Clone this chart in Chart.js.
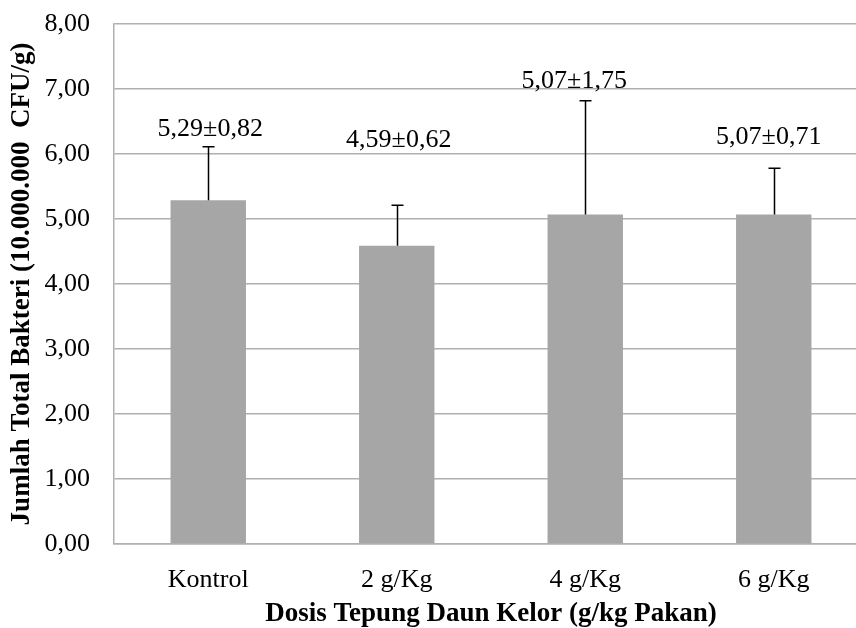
<!DOCTYPE html>
<html>
<head>
<meta charset="utf-8">
<script src="https://cdn.jsdelivr.net/npm/chart.js@4"></script>
<style>
  html, body { margin: 0; padding: 0; background: #fff; overflow: hidden; }
  #wrap { width: 856px; height: 628px; overflow: hidden; }
</style>
</head>
<body>
<div id="wrap"><canvas id="chart" width="900" height="628"></canvas></div>
<script>
// data
const categories = ['Kontrol', '2 g/Kg', '4 g/Kg', '6 g/Kg'];
const means = [5.29, 4.59, 5.07, 5.07];
const sds = [0.82, 0.62, 1.75, 0.71];
const yTicks = [0, 1, 2, 3, 4, 5, 6, 7, 8];

const fmt = v => v.toFixed(2).replace('.', ',');
const valueLabels = means.map((m, i) => fmt(m) + '±' + fmt(sds[i]));

// where each label sits (data units for y, pixel nudge for x)
const labelY = [6.28, 6.11, 7.01, 6.15];
const labelDx = [2, 2, -11, -5];

const FONT = '"Liberation Serif", "Times New Roman", serif';
const GRID = '#b0b0b0';

const errorBars = {
    id: 'errorBars',
    afterDatasetsDraw(chart) {
        const ctx = chart.ctx;
        const meta = chart.getDatasetMeta(0);
        const y = chart.scales.y;
        ctx.save();
        ctx.strokeStyle = '#000';
        ctx.lineWidth = 1.5;
        meta.data.forEach((bar, i) => {
            const x = Math.round(bar.x) + 0.5;
            const top = y.getPixelForValue(means[i] + sds[i]);
            ctx.beginPath();
            ctx.moveTo(x, bar.y);
            ctx.lineTo(x, top);
            ctx.moveTo(x - 6, top);
            ctx.lineTo(x + 6, top);
            ctx.stroke();
        });
        // value labels
        ctx.fillStyle = '#000';
        ctx.font = '26px ' + FONT;
        ctx.textAlign = 'center';
        ctx.textBaseline = 'alphabetic';
        meta.data.forEach((bar, i) => {
            ctx.fillText(valueLabels[i], bar.x + labelDx[i], y.getPixelForValue(labelY[i]));
        });
        ctx.restore();
    }
};

new Chart(document.getElementById('chart'), {
    type: 'bar',
    data: {
        labels: categories,
        datasets: [{
            data: means,
            backgroundColor: '#a6a6a6',
            borderWidth: 0,
            barPercentage: 0.4,
            categoryPercentage: 1.0
        }]
    },
    options: {
        responsive: false,
        animation: false,
        layout: { padding: { top: 24, right: 32, left: 0, bottom: 0 } },
        plugins: { legend: { display: false }, tooltip: { enabled: false } },
        scales: {
            y: {
                min: 0,
                max: 8,
                afterBuildTicks: s => { s.ticks = yTicks.map(v => ({ value: v })); },
                afterFit: s => { s.width = 114; s.paddingTop = 0; s.paddingBottom = 0; },
                grid: { color: GRID, lineWidth: 1.5, drawTicks: false },
                border: { color: GRID, width: 1.5 },
                ticks: {
                    padding: 24,
                    color: '#000',
                    font: { family: FONT, size: 26 },
                    callback: v => fmt(v)
                },
                title: {
                    display: true,
                    text: 'Jumlah Total Bakteri (10.000.000  CFU/g)',
                    color: '#000',
                    font: { family: FONT, size: 27, weight: 'bold' },
                    padding: { top: 6, bottom: 0 }
                }
            },
            x: {
                afterFit: s => { s.height = 84; s.paddingLeft = 0; s.paddingRight = 0; },
                grid: { display: false, drawTicks: false },
                border: { color: GRID, width: 1.5 },
                ticks: {
                    padding: 21,
                    color: '#000',
                    font: { family: FONT, size: 26 }
                },
                title: {
                    display: true,
                    text: 'Dosis Tepung Daun Kelor (g/kg Pakan)',
                    color: '#000',
                    font: { family: FONT, size: 27, weight: 'bold' },
                    padding: { top: 0, bottom: -2 }
                }
            }
        }
    },
    plugins: [errorBars]
});
</script>
</body>
</html>
